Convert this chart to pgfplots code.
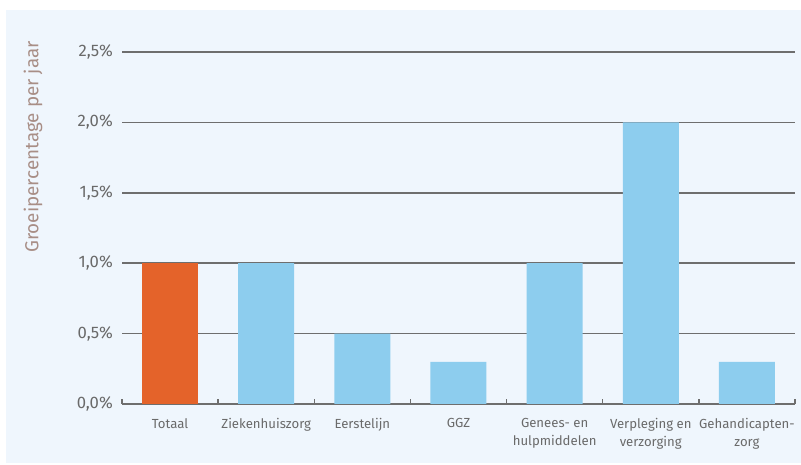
\documentclass[border=0pt]{standalone}
\usepackage{pgfplots}
\pgfplotsset{compat=1.18}
\usepackage{fontspec}
\setmainfont{Fira Sans}
\definecolor{bgblue}{HTML}{EFF6FD}
\definecolor{barblue}{HTML}{8DCDEE}
\definecolor{barorange}{HTML}{E4632A}
\definecolor{gridgray}{HTML}{6E6E6E}
\definecolor{txtgray}{HTML}{6A6A6A}
\definecolor{lblcol}{HTML}{A88E86}
\begin{document}
\begin{tikzpicture}[x=0.6pt,y=0.6pt]
\useasboundingbox (0,0) rectangle (801,465);
\fill[white] (0,0) rectangle (801,465);
\fill[bgblue] (6,2) rectangle (801,455);
\node[rotate=90, text=lblcol, font=\fontsize{11.3}{13}\selectfont] at (33,318) {Groeipercentage per jaar};
\begin{axis}[
  at={(122*0.6pt,61*0.6pt)}, anchor=south west,
  width=403.8pt, height=211.2pt, scale only axis,
  ymin=0, ymax=2.5, xmin=-0.5, xmax=6.5,
  ybar, bar width=33.6pt, bar shift=0pt,
  axis x line*=bottom, axis y line*=left,
  x axis line style={draw=gridgray, line width=1pt, -},
  y axis line style={draw=none},
  ytick={0,0.5,1,1.5,2,2.5},
  yticklabels={{0,0\%},{0,5\%},{1,0\%},{1,5\%},{2,0\%},{2,5\%}},
  yticklabel style={text=txtgray, font=\fontsize{10}{11}\selectfont, xshift=-2pt},
  ymajorgrids, major grid style={draw=gridgray, line width=0.9pt},
  ytick style={draw=none},
  xtick={0,...,6},
  xticklabels={Totaal,Ziekenhuiszorg,Eerstelijn,GGZ,{Genees- en\\hulpmiddelen},{Verpleging en\\verzorging},{Gehandicapten-\\zorg}},
  xticklabel style={text=txtgray, font=\fontsize{7.9}{10.8}\selectfont, align=center, yshift=-5pt},
  major x tick style={draw=none},
  minor xtick={-0.5,0.5,...,6.5},
  minor tick length=3pt, tick align=inside,
  minor x tick style={draw=gridgray, line width=0.8pt},
  axis background/.style={fill=none},
  clip=false,
]
\addplot[fill=barorange, draw=none] coordinates {(0,1.0)};
\addplot[fill=barblue, draw=none] coordinates {(1,1.0) (2,0.5) (3,0.3) (4,1.0) (5,2.0) (6,0.3)};
\end{axis}
\end{tikzpicture}
\end{document}
